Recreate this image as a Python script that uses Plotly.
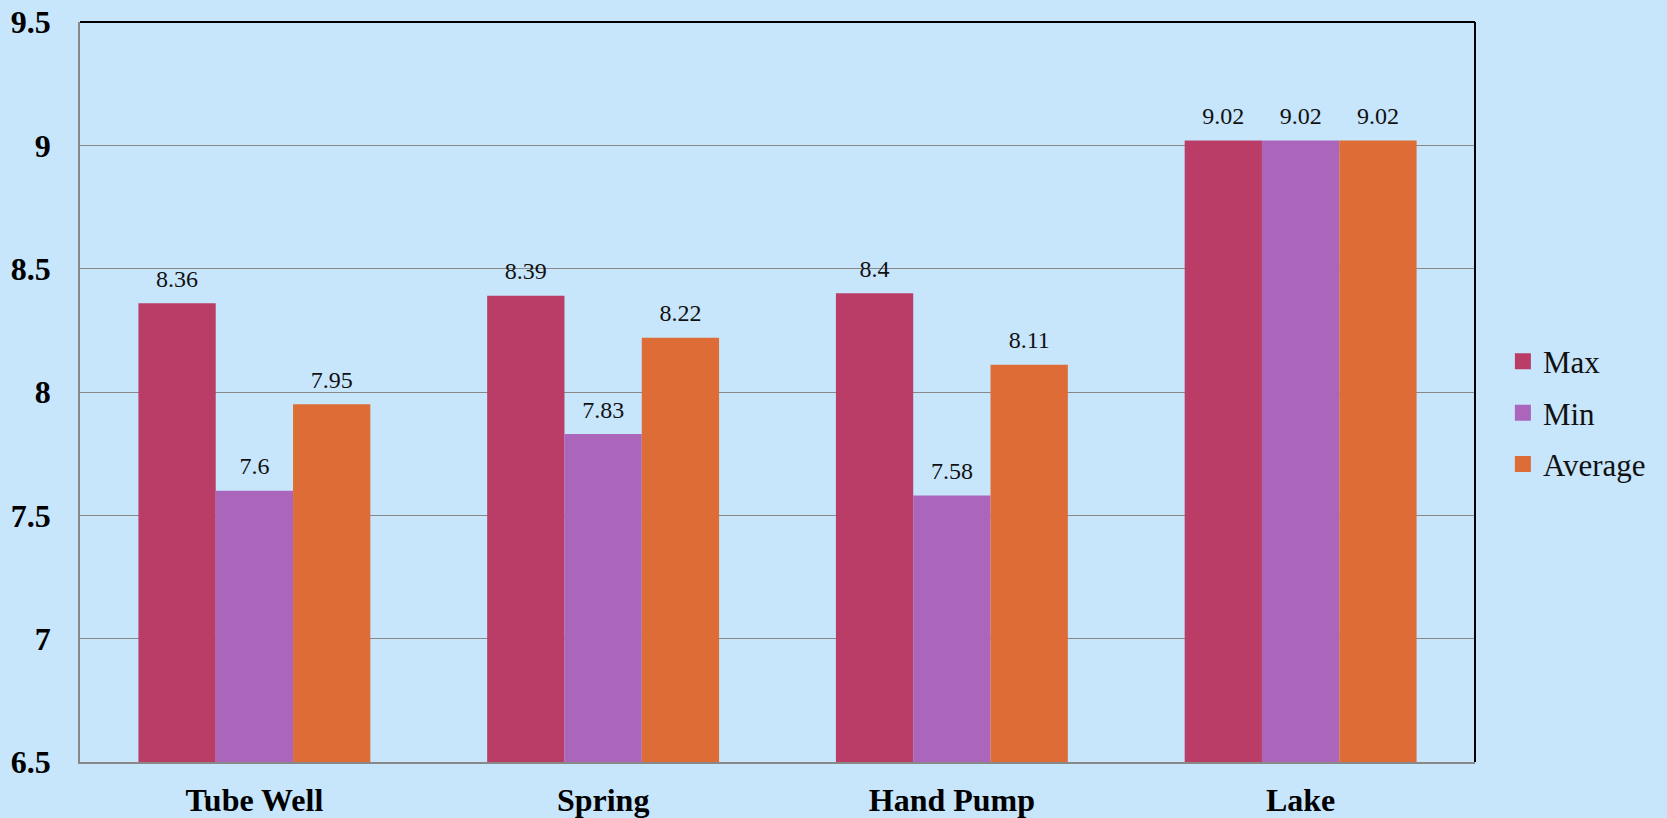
import plotly.graph_objects as go

# pH readings by water source
sources = ["Tube Well", "Spring", "Hand Pump", "Lake"]
max_vals = [8.36, 8.39, 8.4, 9.02]
min_vals = [7.6, 7.83, 7.58, 9.02]
avg_vals = [7.95, 8.22, 8.11, 9.02]

series = [
    ("Max", max_vals, "#B93D66"),
    ("Min", min_vals, "#AB66BC"),
    ("Average", avg_vals, "#DE6C36"),
]

BG = "#C7E6FC"
SERIF = "Liberation Serif, Times New Roman, serif"
GAP = 0.335

fig = go.Figure()
for name, vals, color in series:
    fig.add_trace(go.Bar(
        x=sources, y=vals, name=name,
        marker=dict(color=color, line=dict(width=0)),
        offsetgroup=name, alignmentgroup="all",
        showlegend=False,
    ))

# value labels, placed in the same offset group as their bars
for name, vals, color in series:
    fig.add_trace(go.Scatter(
        x=sources, y=vals, mode="markers+text",
        text=[f"{v:g}" for v in vals], textposition="top center",
        textfont=dict(family=SERIF, size=24, color="#111111"),
        marker=dict(size=15, opacity=0, color=color),
        offsetgroup=name, alignmentgroup="all",
        cliponaxis=False, showlegend=False, hoverinfo="skip",
    ))

# legend entries with larger square swatches
for i, (name, vals, color) in enumerate(series):
    fig.add_trace(go.Scatter(
        x=[None], y=[None], name=name, mode="markers",
        marker=dict(symbol="square", size=16, color=color),
        legendgroup=f"g{i}",
    ))

fig.update_layout(
    width=1667, height=818,
    paper_bgcolor=BG, plot_bgcolor=BG,
    margin=dict(l=80, r=192, t=22, b=56, autoexpand=False),
    barmode="group", bargap=GAP, bargroupgap=0,
    scattermode="group", scattergap=GAP,
    showlegend=True,
    legend=dict(
        x=1.02, xanchor="left", y=0.472, yanchor="middle",
        font=dict(family=SERIF, size=31, color="#111111"),
        bgcolor="rgba(0,0,0,0)", tracegroupgap=8, itemwidth=30,
    ),
    xaxis=dict(
        automargin=False,
        showgrid=False, showline=True, linecolor="#888888", linewidth=1.7,
        ticks="", ticklabelstandoff=9,
        tickfont=dict(family=SERIF, size=32, color="#000000", weight="bold"),
    ),
    yaxis=dict(
        automargin=False,
        range=[6.5, 9.5], dtick=0.5, tick0=6.5,
        showgrid=True, gridcolor="#888888", gridwidth=1.4,
        showline=True, linecolor="#888888", linewidth=1.7,
        zeroline=False, ticks="", ticklabelstandoff=21,
        tickfont=dict(family=SERIF, size=32, color="#000000", weight="bold"),
    ),
    shapes=[
        dict(type="line", xref="paper", yref="paper", x0=0, x1=1, y0=1, y1=1,
             line=dict(color="#000000", width=2)),
        dict(type="line", xref="paper", yref="paper", x0=1, x1=1, y0=0, y1=1,
             line=dict(color="#000000", width=2)),
    ],
)

fig.write_html("out.html")
